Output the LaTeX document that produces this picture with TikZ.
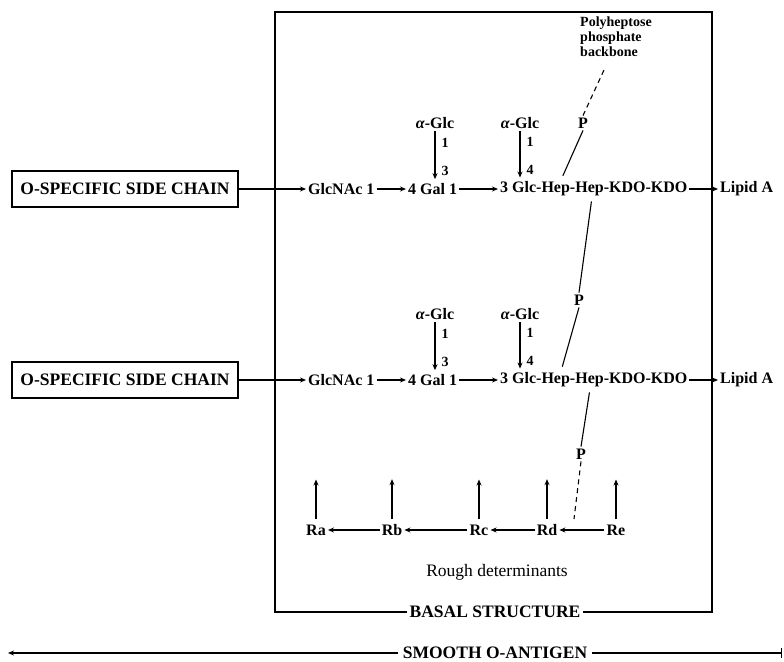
\documentclass[tikz,border=0pt]{standalone}
\usepackage{fontspec}
\setmainfont{Liberation Serif}
\usetikzlibrary{arrows.meta,calc,positioning}

\tikzset{
  every node/.style={font=\bfseries\fontsize{16}{18}\selectfont, inner sep=2pt},
  caps/.style={font=\bfseries\fontsize{17.5}{19}\selectfont},
  chainbox/.style={caps, draw, line width=1.3pt, minimum width=226pt, minimum height=36pt, inner sep=0pt},
  small/.style={font=\bfseries\fontsize{14}{15}\selectfont},
  arr/.style={-{Stealth[length=6pt,width=5pt]}, line width=1.1pt},
  link/.style={line width=1.1pt},
  dash link/.style={line width=1.1pt, dash pattern=on 5pt off 4pt},
}

\begin{document}
\begin{tikzpicture}[x=1pt,y=-1pt]
  \useasboundingbox (0,0) rectangle (784,661);
  % the two chains
  \foreach \r/\y in {1/189,2/380}{
    \node[chainbox] (side\r) at (125,\y) {O-SPECIFIC SIDE CHAIN};
    \node[anchor=west] (glcnac\r) at (306,\y) {GlcNAc 1};
    \node[anchor=west] (gal\r) at (406,\y) {4 Gal 1};
    \node[anchor=west] (core\r) at (498,\y) {3 Glc-Hep-Hep-KDO-KDO};
    \node[anchor=west] (lipid\r) at (718,\y) {Lipid A};
    \node (aglca\r) at (435,\y-66) {\textit{α}-Glc};
    \node (aglcb\r) at (520,\y-66) {\textit{α}-Glc};
    \draw[arr] (side\r) -- (glcnac\r);
    \draw[arr] (glcnac\r) -- (gal\r);
    \draw[arr] (gal\r) -- (core\r);
    \draw[arr] (core\r) -- (lipid\r);
    \draw[arr, shorten >=2pt] (aglca\r.south) -- (aglca\r.south |- gal\r.north)
      node[small, pos=.23, right=4pt]{1} node[small, pos=.8, right=4pt]{3};
    \draw[arr, shorten >=2pt] (aglcb\r.south) -- (aglcb\r.south |- core\r.north)
      node[small, pos=.23, right=4pt]{1} node[small, pos=.8, right=4pt]{4};
  }
  % phosphate links
  \node (pa) at (583,123) {P};
  \node[small, align=left] (backbone) at (616,37) {Polyheptose\\phosphate\\backbone};
  \coordinate (bbend) at (604,70);
  \node (pb) at (579,300) {P};
  \node (pc) at (581,454) {P};
  \coordinate (pcend) at (574,519);
  \draw[link, shorten >=4pt] (pa.south) -- ($(core1.north west)!0.33!(core1.north east)$);
  \draw[dash link] (pa.north) -- (bbend);
  \draw[link, shorten <=3pt] ($(core1.south west)!0.49!(core1.south east)$) -- (pb.north);
  \draw[link, shorten >=4pt] (pb.south) -- ($(core2.north west)!0.33!(core2.north east)$);
  \draw[link, shorten <=3pt] ($(core2.south west)!0.48!(core2.south east)$) -- (pc.north);
  \draw[dash link] (pc.south) -- (pcend);
  % rough determinants
  \node (ra) at (316,530) {Ra};
  \node (rb) at (392,530) {Rb};
  \node (rc) at (479,530) {Rc};
  \node (rd) at (547,530) {Rd};
  \node (re) at (616,530) {Re};
  \draw[arr] (rb) -- (ra);
  \draw[arr] (rc) -- (rb);
  \draw[arr] (rd) -- (rc);
  \draw[arr] (re) -- (rd);
  \foreach \n in {ra,rb,rc,rd,re}
    \draw[arr, shorten <=3pt] (\n.north) -- ([yshift=43pt]\n.north);
  \node[font=\fontsize{17.5}{19}\selectfont] (rough) at (497,572) {Rough determinants};
  % basal box
  \coordinate (boxtl) at (275,12);
  \coordinate (boxbr) at (712,612);
  \node[caps] (basal) at (495,612) {BASAL STRUCTURE};
  \draw[link, line width=1.3pt] (basal.west) -- (basal.west -| boxtl) -- (boxtl) -| (boxbr) -- (basal.east);
  % smooth antigen
  \node[caps] (smooth) at (495,653) {SMOOTH O-ANTIGEN};
  \coordinate (smleft) at (8,653);
  \coordinate (smright) at (782,653);
  \draw[arr, shorten <=3pt] (smooth.west) -- (smleft);
  \draw[link, shorten <=3pt, -{Bar[width=10pt]}] (smooth.east) -- (smright);
\end{tikzpicture}
\end{document}
